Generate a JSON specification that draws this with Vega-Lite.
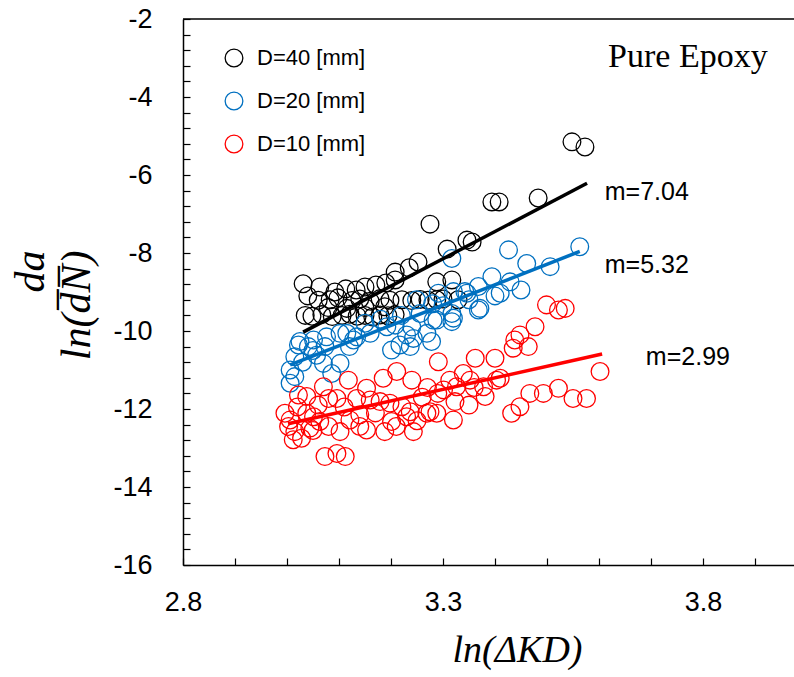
{
  "$schema": "https://vega.github.io/schema/vega-lite/v6.json",
  "width": 611,
  "height": 546,
  "autosize": "none",
  "padding": {"left": 183, "top": 19, "right": 0, "bottom": 112},
  "background": "white",
  "config": {"view": {"stroke": null}, "font": "Liberation Sans", "axis": {"labelOverlap": false}},
  "datasets": {
    "points": [
      {"series": "D=40 [mm]", "x": 3.031, "y": -8.79},
      {"series": "D=40 [mm]", "x": 3.063, "y": -8.87},
      {"series": "D=40 [mm]", "x": 3.060, "y": -9.21},
      {"series": "D=40 [mm]", "x": 3.092, "y": -9.00},
      {"series": "D=40 [mm]", "x": 3.113, "y": -8.92},
      {"series": "D=40 [mm]", "x": 3.133, "y": -8.95},
      {"series": "D=40 [mm]", "x": 3.150, "y": -8.87},
      {"series": "D=40 [mm]", "x": 3.171, "y": -8.82},
      {"series": "D=40 [mm]", "x": 3.190, "y": -8.77},
      {"series": "D=40 [mm]", "x": 3.208, "y": -8.69},
      {"series": "D=40 [mm]", "x": 3.235, "y": -8.38},
      {"series": "D=40 [mm]", "x": 3.252, "y": -8.23},
      {"series": "D=40 [mm]", "x": 3.208, "y": -8.49},
      {"series": "D=40 [mm]", "x": 3.288, "y": -8.74},
      {"series": "D=40 [mm]", "x": 3.317, "y": -8.69},
      {"series": "D=40 [mm]", "x": 3.308, "y": -7.90},
      {"series": "D=40 [mm]", "x": 3.275, "y": -7.26},
      {"series": "D=40 [mm]", "x": 3.346, "y": -7.67},
      {"series": "D=40 [mm]", "x": 3.356, "y": -7.72},
      {"series": "D=40 [mm]", "x": 3.394, "y": -6.69},
      {"series": "D=40 [mm]", "x": 3.408, "y": -6.69},
      {"series": "D=40 [mm]", "x": 3.483, "y": -6.59},
      {"series": "D=40 [mm]", "x": 3.548, "y": -5.15},
      {"series": "D=40 [mm]", "x": 3.573, "y": -5.28},
      {"series": "D=40 [mm]", "x": 3.083, "y": -9.20},
      {"series": "D=40 [mm]", "x": 3.098, "y": -9.15},
      {"series": "D=40 [mm]", "x": 3.125, "y": -9.22},
      {"series": "D=40 [mm]", "x": 3.140, "y": -9.18},
      {"series": "D=40 [mm]", "x": 3.160, "y": -9.24},
      {"series": "D=40 [mm]", "x": 3.179, "y": -9.17},
      {"series": "D=40 [mm]", "x": 3.198, "y": -9.21},
      {"series": "D=40 [mm]", "x": 3.221, "y": -9.20},
      {"series": "D=40 [mm]", "x": 3.240, "y": -9.22},
      {"series": "D=40 [mm]", "x": 3.256, "y": -9.19},
      {"series": "D=40 [mm]", "x": 3.271, "y": -9.21},
      {"series": "D=40 [mm]", "x": 3.288, "y": -9.20},
      {"series": "D=40 [mm]", "x": 3.300, "y": -9.18},
      {"series": "D=40 [mm]", "x": 3.329, "y": -9.20},
      {"series": "D=40 [mm]", "x": 3.035, "y": -9.60},
      {"series": "D=40 [mm]", "x": 3.048, "y": -9.62},
      {"series": "D=40 [mm]", "x": 3.067, "y": -9.58},
      {"series": "D=40 [mm]", "x": 3.087, "y": -9.63},
      {"series": "D=40 [mm]", "x": 3.106, "y": -9.60},
      {"series": "D=40 [mm]", "x": 3.121, "y": -9.57},
      {"series": "D=40 [mm]", "x": 3.135, "y": -9.62},
      {"series": "D=40 [mm]", "x": 3.150, "y": -9.60},
      {"series": "D=40 [mm]", "x": 3.165, "y": -9.64},
      {"series": "D=40 [mm]", "x": 3.179, "y": -9.59},
      {"series": "D=40 [mm]", "x": 3.194, "y": -9.61},
      {"series": "D=40 [mm]", "x": 3.208, "y": -9.58},
      {"series": "D=40 [mm]", "x": 3.079, "y": -9.40},
      {"series": "D=40 [mm]", "x": 3.115, "y": -9.42},
      {"series": "D=40 [mm]", "x": 3.150, "y": -9.40},
      {"series": "D=40 [mm]", "x": 3.188, "y": -9.38},
      {"series": "D=40 [mm]", "x": 3.040, "y": -9.10},
      {"series": "D=20 [mm]", "x": 3.563, "y": -7.84},
      {"series": "D=20 [mm]", "x": 3.426, "y": -7.92},
      {"series": "D=20 [mm]", "x": 3.461, "y": -8.27},
      {"series": "D=20 [mm]", "x": 3.506, "y": -8.35},
      {"series": "D=20 [mm]", "x": 3.317, "y": -8.14},
      {"series": "D=20 [mm]", "x": 3.394, "y": -8.61},
      {"series": "D=20 [mm]", "x": 3.429, "y": -8.74},
      {"series": "D=20 [mm]", "x": 3.368, "y": -8.86},
      {"series": "D=20 [mm]", "x": 3.342, "y": -8.99},
      {"series": "D=20 [mm]", "x": 3.320, "y": -8.99},
      {"series": "D=20 [mm]", "x": 3.371, "y": -9.42},
      {"series": "D=20 [mm]", "x": 3.320, "y": -9.67},
      {"series": "D=20 [mm]", "x": 3.288, "y": -9.72},
      {"series": "D=20 [mm]", "x": 3.269, "y": -10.06},
      {"series": "D=20 [mm]", "x": 3.230, "y": -10.10},
      {"series": "D=20 [mm]", "x": 3.208, "y": -9.85},
      {"series": "D=20 [mm]", "x": 3.102, "y": -10.06},
      {"series": "D=20 [mm]", "x": 3.076, "y": -10.15},
      {"series": "D=20 [mm]", "x": 3.025, "y": -10.27},
      {"series": "D=20 [mm]", "x": 3.051, "y": -10.23},
      {"series": "D=20 [mm]", "x": 3.128, "y": -10.23},
      {"series": "D=20 [mm]", "x": 3.160, "y": -10.06},
      {"series": "D=20 [mm]", "x": 3.410, "y": -9.03},
      {"series": "D=20 [mm]", "x": 3.368, "y": -9.46},
      {"series": "D=20 [mm]", "x": 3.346, "y": -9.03},
      {"series": "D=20 [mm]", "x": 3.317, "y": -9.55},
      {"series": "D=20 [mm]", "x": 3.317, "y": -9.76},
      {"series": "D=20 [mm]", "x": 3.281, "y": -9.72},
      {"series": "D=20 [mm]", "x": 3.278, "y": -10.27},
      {"series": "D=20 [mm]", "x": 3.243, "y": -10.19},
      {"series": "D=20 [mm]", "x": 3.237, "y": -10.40},
      {"series": "D=20 [mm]", "x": 3.201, "y": -10.49},
      {"series": "D=20 [mm]", "x": 3.217, "y": -10.36},
      {"series": "D=20 [mm]", "x": 3.192, "y": -9.89},
      {"series": "D=20 [mm]", "x": 3.102, "y": -10.83},
      {"series": "D=20 [mm]", "x": 3.086, "y": -11.09},
      {"series": "D=20 [mm]", "x": 3.070, "y": -10.83},
      {"series": "D=20 [mm]", "x": 3.057, "y": -10.62},
      {"series": "D=20 [mm]", "x": 3.041, "y": -10.40},
      {"series": "D=20 [mm]", "x": 3.022, "y": -10.36},
      {"series": "D=20 [mm]", "x": 3.015, "y": -10.66},
      {"series": "D=20 [mm]", "x": 3.006, "y": -11.00},
      {"series": "D=20 [mm]", "x": 3.015, "y": -11.17},
      {"series": "D=20 [mm]", "x": 3.006, "y": -11.34},
      {"series": "D=20 [mm]", "x": 3.073, "y": -10.40},
      {"series": "D=20 [mm]", "x": 3.115, "y": -10.06},
      {"series": "D=20 [mm]", "x": 3.134, "y": -10.15},
      {"series": "D=20 [mm]", "x": 3.256, "y": -9.55},
      {"series": "D=20 [mm]", "x": 3.249, "y": -9.20},
      {"series": "D=20 [mm]", "x": 3.291, "y": -9.03},
      {"series": "D=20 [mm]", "x": 3.300, "y": -9.35},
      {"series": "D=20 [mm]", "x": 3.240, "y": -9.90},
      {"series": "D=20 [mm]", "x": 3.180, "y": -9.70},
      {"series": "D=20 [mm]", "x": 3.150, "y": -9.80},
      {"series": "D=20 [mm]", "x": 3.350, "y": -9.20},
      {"series": "D=20 [mm]", "x": 3.400, "y": -9.10},
      {"series": "D=20 [mm]", "x": 3.450, "y": -8.95},
      {"series": "D=20 [mm]", "x": 3.280, "y": -9.30},
      {"series": "D=20 [mm]", "x": 3.220, "y": -9.60},
      {"series": "D=20 [mm]", "x": 3.120, "y": -10.40},
      {"series": "D=20 [mm]", "x": 3.050, "y": -10.50},
      {"series": "D=20 [mm]", "x": 3.030, "y": -10.80},
      {"series": "D=10 [mm]", "x": 3.499, "y": -9.33},
      {"series": "D=10 [mm]", "x": 3.522, "y": -9.46},
      {"series": "D=10 [mm]", "x": 3.535, "y": -9.42},
      {"series": "D=10 [mm]", "x": 3.477, "y": -9.89},
      {"series": "D=10 [mm]", "x": 3.448, "y": -10.10},
      {"series": "D=10 [mm]", "x": 3.438, "y": -10.23},
      {"series": "D=10 [mm]", "x": 3.435, "y": -10.44},
      {"series": "D=10 [mm]", "x": 3.464, "y": -10.40},
      {"series": "D=10 [mm]", "x": 3.400, "y": -10.70},
      {"series": "D=10 [mm]", "x": 3.362, "y": -10.70},
      {"series": "D=10 [mm]", "x": 3.291, "y": -10.79},
      {"series": "D=10 [mm]", "x": 3.339, "y": -11.09},
      {"series": "D=10 [mm]", "x": 3.313, "y": -11.26},
      {"series": "D=10 [mm]", "x": 3.301, "y": -11.51},
      {"series": "D=10 [mm]", "x": 3.326, "y": -11.43},
      {"series": "D=10 [mm]", "x": 3.352, "y": -11.26},
      {"series": "D=10 [mm]", "x": 3.378, "y": -11.43},
      {"series": "D=10 [mm]", "x": 3.403, "y": -11.26},
      {"series": "D=10 [mm]", "x": 3.410, "y": -11.21},
      {"series": "D=10 [mm]", "x": 3.381, "y": -11.68},
      {"series": "D=10 [mm]", "x": 3.323, "y": -11.81},
      {"series": "D=10 [mm]", "x": 3.275, "y": -12.07},
      {"series": "D=10 [mm]", "x": 3.288, "y": -12.11},
      {"series": "D=10 [mm]", "x": 3.269, "y": -12.11},
      {"series": "D=10 [mm]", "x": 3.320, "y": -12.28},
      {"series": "D=10 [mm]", "x": 3.602, "y": -11.04},
      {"series": "D=10 [mm]", "x": 3.576, "y": -11.73},
      {"series": "D=10 [mm]", "x": 3.550, "y": -11.73},
      {"series": "D=10 [mm]", "x": 3.522, "y": -11.47},
      {"series": "D=10 [mm]", "x": 3.493, "y": -11.60},
      {"series": "D=10 [mm]", "x": 3.467, "y": -11.60},
      {"series": "D=10 [mm]", "x": 3.448, "y": -11.94},
      {"series": "D=10 [mm]", "x": 3.432, "y": -12.11},
      {"series": "D=10 [mm]", "x": 3.240, "y": -11.26},
      {"series": "D=10 [mm]", "x": 3.211, "y": -11.04},
      {"series": "D=10 [mm]", "x": 3.185, "y": -11.21},
      {"series": "D=10 [mm]", "x": 3.118, "y": -11.26},
      {"series": "D=10 [mm]", "x": 3.153, "y": -11.47},
      {"series": "D=10 [mm]", "x": 3.070, "y": -11.43},
      {"series": "D=10 [mm]", "x": 3.022, "y": -11.64},
      {"series": "D=10 [mm]", "x": 3.038, "y": -11.68},
      {"series": "D=10 [mm]", "x": 3.080, "y": -11.73},
      {"series": "D=10 [mm]", "x": 3.096, "y": -11.73},
      {"series": "D=10 [mm]", "x": 3.134, "y": -11.73},
      {"series": "D=10 [mm]", "x": 3.160, "y": -11.77},
      {"series": "D=10 [mm]", "x": 3.179, "y": -11.81},
      {"series": "D=10 [mm]", "x": 3.198, "y": -11.85},
      {"series": "D=10 [mm]", "x": 3.221, "y": -11.94},
      {"series": "D=10 [mm]", "x": 3.237, "y": -12.07},
      {"series": "D=10 [mm]", "x": 2.996, "y": -12.11},
      {"series": "D=10 [mm]", "x": 3.006, "y": -12.28},
      {"series": "D=10 [mm]", "x": 3.003, "y": -12.45},
      {"series": "D=10 [mm]", "x": 3.015, "y": -12.58},
      {"series": "D=10 [mm]", "x": 3.012, "y": -12.79},
      {"series": "D=10 [mm]", "x": 3.028, "y": -12.75},
      {"series": "D=10 [mm]", "x": 3.044, "y": -12.49},
      {"series": "D=10 [mm]", "x": 3.063, "y": -12.32},
      {"series": "D=10 [mm]", "x": 3.051, "y": -12.20},
      {"series": "D=10 [mm]", "x": 3.080, "y": -12.45},
      {"series": "D=10 [mm]", "x": 3.102, "y": -12.58},
      {"series": "D=10 [mm]", "x": 3.121, "y": -12.28},
      {"series": "D=10 [mm]", "x": 3.140, "y": -12.45},
      {"series": "D=10 [mm]", "x": 3.153, "y": -12.54},
      {"series": "D=10 [mm]", "x": 3.188, "y": -12.58},
      {"series": "D=10 [mm]", "x": 3.201, "y": -12.32},
      {"series": "D=10 [mm]", "x": 3.230, "y": -12.20},
      {"series": "D=10 [mm]", "x": 3.243, "y": -12.58},
      {"series": "D=10 [mm]", "x": 3.073, "y": -13.22},
      {"series": "D=10 [mm]", "x": 3.096, "y": -13.14},
      {"series": "D=10 [mm]", "x": 3.112, "y": -13.22},
      {"series": "D=10 [mm]", "x": 3.038, "y": -12.11},
      {"series": "D=10 [mm]", "x": 3.020, "y": -11.95},
      {"series": "D=10 [mm]", "x": 3.060, "y": -11.90},
      {"series": "D=10 [mm]", "x": 3.110, "y": -11.95},
      {"series": "D=10 [mm]", "x": 3.170, "y": -12.10},
      {"series": "D=10 [mm]", "x": 3.260, "y": -11.70},
      {"series": "D=10 [mm]", "x": 3.290, "y": -11.60},
      {"series": "D=10 [mm]", "x": 3.360, "y": -11.45},
      {"series": "D=10 [mm]", "x": 3.250, "y": -12.30},
      {"series": "D=10 [mm]", "x": 3.140, "y": -12.15},
      {"series": "D=10 [mm]", "x": 3.050, "y": -12.55},
      {"series": "D=10 [mm]", "x": 3.350, "y": -11.90},
      {"series": "D=10 [mm]", "x": 3.210, "y": -12.45},
      {"series": "D=10 [mm]", "x": 3.270, "y": -11.45}
    ],
    "fits": [
      {"series": "D=40 [mm]", "x": 3.031, "y": -10.03},
      {"series": "D=40 [mm]", "x": 3.577, "y": -6.21},
      {"series": "D=20 [mm]", "x": 3.006, "y": -10.87},
      {"series": "D=20 [mm]", "x": 3.563, "y": -7.96},
      {"series": "D=10 [mm]", "x": 3.002, "y": -12.38},
      {"series": "D=10 [mm]", "x": 3.606, "y": -10.59}
    ],
    "notes": [
      {"x": 3.692, "y": -6.44, "label": "m=7.04"},
      {"x": 3.692, "y": -8.31, "label": "m=5.32"},
      {"x": 3.771, "y": -10.67, "label": "m=2.99"}
    ]
  },
  "layer": [
    {
      "data": {"name": "points"},
      "mark": {"type": "point", "shape": "circle", "filled": false, "size": 314, "strokeWidth": 1.3, "opacity": 1},
      "encoding": {
        "x": {
          "field": "x", "type": "quantitative",
          "scale": {"domain": [2.8, 3.975], "nice": false, "zero": false},
          "axis": {
            "values": [2.8, 2.9, 3.0, 3.1, 3.2, 3.3, 3.4, 3.5, 3.6, 3.7, 3.8, 3.9],
            "tickCount": 200,
            "labelExpr": "round(datum.value*10) % 5 == 3 ? format(datum.value, '.1f') : ''",
            "grid": false, "tickSize": -7, "tickColor": "black", "tickWidth": 1.2,
            "domainColor": "black", "domainWidth": 1.5,
            "labelFont": "Liberation Sans",
            "labelFontSize": {"condition": {"test": "round(datum.value*10) % 5 == 3", "value": 27}, "value": 0},
            "labelColor": "black",
            "labelPadding": 31, "labelOverlap": false, "labelFlush": false,
            "title": "ln(ΔKD)", "titleFont": "Liberation Serif", "titleFontStyle": "italic",
            "titleFontWeight": "normal", "titleFontSize": 38, "titleColor": "black", "titlePadding": 16,
            "titleX": 334
          }
        },
        "y": {
          "field": "y", "type": "quantitative",
          "scale": {"domain": [-16, -2], "nice": false, "zero": false},
          "axis": {
            "values": [-16, -15.6, -15.2, -14.8, -14.4, -14, -13.6, -13.2, -12.8, -12.4, -12, -11.6, -11.2, -10.8, -10.4, -10, -9.6, -9.2, -8.8, -8.4, -8, -7.6, -7.2, -6.8, -6.4, -6, -5.6, -5.2, -4.8, -4.4, -4, -3.6, -3.2, -2.8, -2.4, -2],
            "tickCount": 200,
            "labelExpr": "round(datum.value*10) % 20 == 0 ? toString(datum.value) : ''",
            "grid": false, "tickSize": -7, "tickColor": "black", "tickWidth": 1.2,
            "domainColor": "black", "domainWidth": 1.5,
            "labelFont": "Liberation Sans",
            "labelFontSize": {"condition": {"test": "round(datum.value*10) % 20 == 0", "value": 27}, "value": 0},
            "labelColor": "black",
            "labelPadding": 38, "labelOverlap": false, "labelFlush": false,
            "title": ["da\u00a0\u00a0", "ln(d\u0305N\u0305)"], "titleFont": "Liberation Serif", "titleFontStyle": "italic",
            "titleFontWeight": "normal", "titleFontSize": 42, "titleColor": "black", "titlePadding": 14,
            "titleLineHeight": 46, "titleAlign": "right", "titleY": 231
          }
        },
        "color": {
          "field": "series", "type": "nominal",
          "scale": {"domain": ["D=40 [mm]", "D=20 [mm]", "D=10 [mm]"], "range": ["#000000", "#0070C0", "#FF0000"]},
          "legend": {
            "title": null, "orient": "none", "legendX": 40, "legendY": 28,
            "symbolType": "circle", "symbolSize": 314, "symbolStrokeWidth": 1.3,
            "labelFont": "Liberation Sans", "labelFontSize": 22, "labelOffset": 12,
            "rowPadding": 19, "padding": 0, "labelLimit": 300,
            "encode": {"labels": {"update": {"fill": {"scale": "color", "field": "value"}}}}
          }
        }
      }
    },
    {
      "data": {"name": "fits"},
      "mark": {"type": "line", "strokeWidth": 3.5},
      "encoding": {
        "x": {"field": "x", "type": "quantitative"},
        "y": {"field": "y", "type": "quantitative"},
        "stroke": {
          "field": "series", "type": "nominal",
          "scale": {"domain": ["D=40 [mm]", "D=20 [mm]", "D=10 [mm]"], "range": ["#000000", "#0070C0", "#FF0000"]},
          "legend": null
        }
      }
    },
    {
      "data": {"name": "notes"},
      "mark": {"type": "text", "font": "Liberation Sans", "fontSize": 25, "align": "center", "baseline": "middle", "color": "black"},
      "encoding": {
        "x": {"field": "x", "type": "quantitative"},
        "y": {"field": "y", "type": "quantitative"},
        "text": {"field": "label"}
      }
    },
    {
      "data": {"values": [{"x": 3.771, "y": -2.97, "label": "Pure Epoxy"}]},
      "mark": {"type": "text", "font": "Liberation Serif", "fontSize": 34, "align": "center", "baseline": "middle", "color": "black"},
      "encoding": {
        "x": {"field": "x", "type": "quantitative"},
        "y": {"field": "y", "type": "quantitative"},
        "text": {"field": "label"}
      }
    },
    {
      "data": {"values": [{}]},
      "mark": {"type": "rule", "color": "black", "strokeWidth": 1.5},
      "encoding": {"y": {"datum": -2}}
    }
  ]
}
